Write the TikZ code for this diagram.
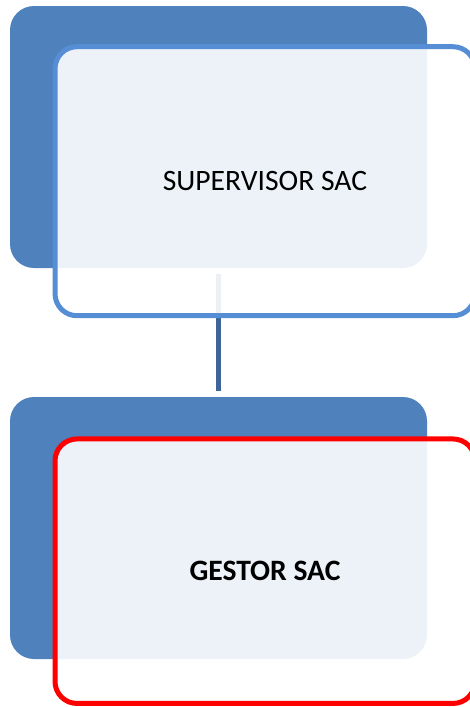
\documentclass[tikz,border=0pt]{standalone}
\usepackage{fontspec}
\setmainfont{Carlito}
\definecolor{darkbox}{HTML}{4F81BD}
\definecolor{bluerim}{HTML}{558ED5}
\definecolor{redrim}{HTML}{FF0000}
\definecolor{linkcol}{HTML}{3F6497}
\begin{document}
\begin{tikzpicture}[x=1pt,y=-1pt,
  backbox/.style={fill=darkbox, draw=none, rounded corners=24pt, minimum width=417pt, minimum height=262pt, inner sep=0pt, outer sep=0pt},
  frontbox/.style={fill=white, fill opacity=0.9, text opacity=1, line width=5pt, rounded corners=22pt, minimum width=420pt, inner sep=0pt, outer sep=0pt, font=\fontsize{29.6}{35}\selectfont},
  link/.style={draw=linkcol, line width=5pt, shorten <=6pt, shorten >=6pt}]
\useasboundingbox (0,0) rectangle (470,707);
\node[backbox] (b1) at (218.5,137) {};
\node[backbox] (b2) at (218.5,528) {};
\draw[link] (b1.south) -- (b2.north);
\node[frontbox, draw=bluerim, minimum height=269pt] (f1) at (265,181.2) {SUPERVISOR SAC};
\node[frontbox, draw=redrim, minimum height=264.5pt] (f2) at (265,571.2) {\bfseries GESTOR SAC};
\end{tikzpicture}
\end{document}
